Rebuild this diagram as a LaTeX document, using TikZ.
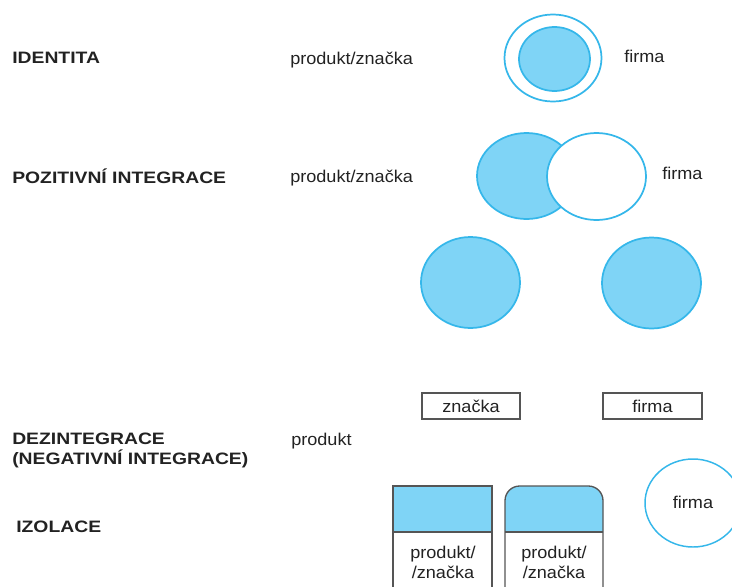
\documentclass[tikz,border=0pt]{standalone}
\usepackage{fontspec}
\setmainfont{Liberation Sans}
\newfontfamily\boldlbl[FakeStretch=1.17]{Liberation Sans Bold}
\newfontfamily\reglbl[FakeStretch=1.06]{Liberation Sans}
\definecolor{fillblue}{HTML}{7FD4F6}
\definecolor{lineblue}{HTML}{35B7EA}
\definecolor{boxgray}{HTML}{555555}
\definecolor{txt}{HTML}{222222}
\begin{document}
\begin{tikzpicture}[x=0.75pt,y=-0.75pt,
  head/.style={anchor=base west,inner sep=0,text=txt,font=\boldlbl\fontsize{12.4}{15}\selectfont},
  lbl/.style={anchor=base west,inner sep=0,text=txt,font=\reglbl\fontsize{12.8}{15}\selectfont},
  clbl/.style={inner sep=0,text=txt,align=center,font=\reglbl\fontsize{12.8}{15}\selectfont},
  blob/.style={fill=fillblue,draw=lineblue,line width=1.3pt},
  ring/.style={fill=white,draw=lineblue,line width=1.3pt},
  gbox/.style={draw=boxgray,line width=1pt}]
\useasboundingbox (0,0) rectangle (732,586);
\clip (0,0) rectangle (732,586);
% row labels
\node[head] (h1) at (12,63) {IDENTITA};
\node[head] (h2) at (12,183) {POZITIVNÍ INTEGRACE};
\node[head] (h3a) at (12,444) {DEZINTEGRACE};
\node[head] (h3b) at (12,464) {(NEGATIVNÍ INTEGRACE)};
\node[head] (h4) at (16,532) {IZOLACE};
% identity
\path[ring] (553,58) ellipse [x radius=48.5, y radius=43.5];
\path[blob] (554.5,59) ellipse [x radius=35.5, y radius=32];
\node[lbl] (p1) at (290,64) {produkt/značka};
\node[lbl] (f1) at (624,62) {firma};
% positive integration
\path[blob] (526.5,176) ellipse [x radius=49.5, y radius=43];
\path[ring] (596.5,176.5) ellipse [x radius=49.5, y radius=43.5];
\node[lbl] (p2) at (290,182) {produkt/značka};
\node[lbl] (f2) at (662,179) {firma};
% disintegration
\path[blob] (470.5,282.5) ellipse [x radius=49.5, y radius=45.5];
\path[blob] (651.5,283) ellipse [x radius=49.5, y radius=45.5];
\node[gbox,minimum width=73.5pt,minimum height=19.5pt,inner sep=0,text=txt,font=\reglbl\fontsize{12.8}{15}\selectfont] (zn) at (471,406) {značka};
\node[gbox,minimum width=74.25pt,minimum height=19.5pt,inner sep=0,text=txt,font=\reglbl\fontsize{12.8}{15}\selectfont] (fi) at (652.5,406) {firma};
\node[lbl] (p3) at (291,445) {produkt};
% isolation
\fill[fillblue] (393,486) rectangle (492,532);
\draw[gbox] (393,600) -- (393,486) -- (492,486) -- (492,600);
\draw[gbox] (393,532) -- (492,532);
\begin{scope}
\clip (500,480) rectangle (610,532);
\fill[fillblue,rounded corners=11pt] (505,600) |- (554,486) -| (603,600) -- cycle;
\end{scope}
\draw[gbox,rounded corners=11pt] (505,600) |- (554,486) -| (603,600);
\draw[gbox] (505,532) -- (603,532);
\node[lbl,anchor=base] (b1a) at (443,558) {produkt/};
\node[lbl,anchor=base] (b1b) at (443,578) {/značka};
\node[lbl,anchor=base] (b2a) at (554,558) {produkt/};
\node[lbl,anchor=base] (b2b) at (554,578) {/značka};
\path[ring,line width=1.1pt] (693,503) ellipse [x radius=48, y radius=44];
\node[clbl] (f3) at (693,502) {firma};
\end{tikzpicture}
\end{document}
